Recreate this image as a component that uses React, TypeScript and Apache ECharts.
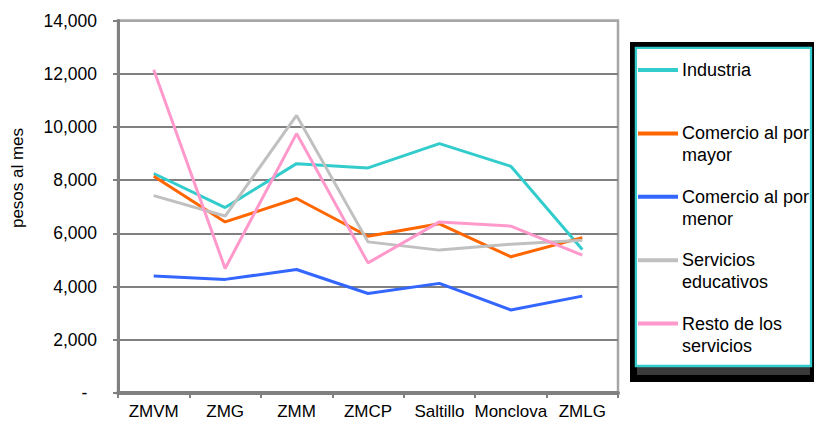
import React, { useEffect, useRef } from "react";
import * as echarts from "echarts";

const categories = ["ZMVM", "ZMG", "ZMM", "ZMCP", "Saltillo", "Monclova", "ZMLG"];
const seriesNames = [
  "Industria",
  "Comercio al por mayor",
  "Comercio al por menor",
  "Servicios educativos",
  "Resto de los servicios",
];
const legendLabels = [
  "Industria",
  "Comercio al por\nmayor",
  "Comercio al por\nmenor",
  "Servicios\neducativos",
  "Resto de los\nservicios",
];
const industria = [8250, 6970, 8620, 8460, 9370, 8520, 5390];
const comercioMayor = [8150, 6430, 7310, 5890, 6360, 5120, 5840];
const comercioMenor = [4400, 4270, 4640, 3740, 4120, 3120, 3640];
const serviciosEducativos = [7420, 6650, 10430, 5680, 5370, 5590, 5740];
const restoServicios = [12150, 4680, 9750, 4890, 6430, 6270, 5180];
const seriesValues = [industria, comercioMayor, comercioMenor, serviciosEducativos, restoServicios];
const colors = ["#33CCCC", "#FF6600", "#3366FF", "#C0C0C0", "#FF99CC"];
const yTicks = [0, 2000, 4000, 6000, 8000, 10000, 12000, 14000];
const yAxisTitle = "pesos al mes";

const FONT = "'Liberation Sans', Arial, sans-serif";

export default function App() {
  const ref = useRef<HTMLDivElement>(null);
  useEffect(() => {
    if (!ref.current) return;
    const chart = echarts.init(ref.current, null, { renderer: "svg" });
    const legendGraphics: any[] = [
      { type: "rect", shape: { x: 630, y: 42, width: 184, height: 340 }, style: { fill: "#000" }, z: 10 },
      { type: "rect", shape: { x: 637, y: 367, width: 173, height: 8 }, style: { fill: "#3a3a3a" }, z: 11 },
      {
        type: "rect",
        shape: { x: 635.9, y: 47.9, width: 175.1, height: 318.1 },
        style: { fill: "#fff", stroke: "#33CCCC", lineWidth: 2.3 },
        z: 12,
      },
      {
        type: "text",
        x: 17,
        y: 178,
        rotation: Math.PI / 2,
        style: {
          text: yAxisTitle,
          fill: "#000",
          font: `17px ${FONT}`,
          align: "center",
          verticalAlign: "middle",
        },
        z: 13,
      },
    ];
    legendLabels.forEach((lbl, i) => {
      const cy = 70 + i * 63.4;
      legendGraphics.push({
        type: "line",
        shape: { x1: 638, y1: cy, x2: 678, y2: cy },
        style: { stroke: colors[i], lineWidth: 4 },
        z: 13,
      });
      legendGraphics.push({
        type: "text",
        x: 682,
        y: cy - 11,
        style: {
          text: lbl,
          fill: "#000",
          font: `18px ${FONT}`,
          lineHeight: 22,
          verticalAlign: "top",
          align: "left",
        },
        z: 13,
      });
    });

    const splitColors = yTicks.map((v, i) => (i === yTicks.length - 1 ? "#A6A6A6" : "#808080"));

    chart.setOption({
      animation: false,
      textStyle: { fontFamily: FONT },
      grid: {
        left: 118,
        top: 20.5,
        width: 500,
        height: 372.5,
        show: true,
        borderColor: "#A6A6A6",
        borderWidth: 2.5,
        outerBoundsMode: "none",
        containLabel: false,
      },
      xAxis: {
        type: "category",
        data: categories,
        boundaryGap: true,
        axisLine: { show: true, lineStyle: { color: "#808080", width: 4 } },
        axisTick: { show: true, alignWithLabel: false, length: 5, lineStyle: { color: "#808080", width: 2 } },
        axisLabel: { color: "#000", fontSize: 17, margin: 10, fontFamily: FONT, interval: 0 },
        splitLine: { show: false },
      },
      yAxis: {
        type: "value",
        min: 0,
        max: 14000,
        interval: 2000,
        axisLine: { show: true, lineStyle: { color: "#808080", width: 3 } },
        axisTick: { show: true, length: 5, lineStyle: { color: "#808080", width: 2 } },
        axisLabel: {
          color: "#000",
          fontSize: 17.5,
          margin: 21,
          fontFamily: FONT,
          formatter: (v: number) => (v === 0 ? "-\u2007" : v.toLocaleString("en-US")),
        },
        splitLine: { show: true, lineStyle: { color: splitColors, width: 2 } },
      },
      series: seriesNames.map((name, i) => ({
        name,
        type: "line",
        data: seriesValues[i],
        symbol: "none",
        lineStyle: { color: colors[i], width: 3 },
        itemStyle: { color: colors[i] },
      })),
      graphic: legendGraphics,
    });
    return () => chart.dispose();
  }, []);
  return <div ref={ref} style={{ width: 814, height: 428, position: "absolute", left: 0, top: 0 }} />;
}
